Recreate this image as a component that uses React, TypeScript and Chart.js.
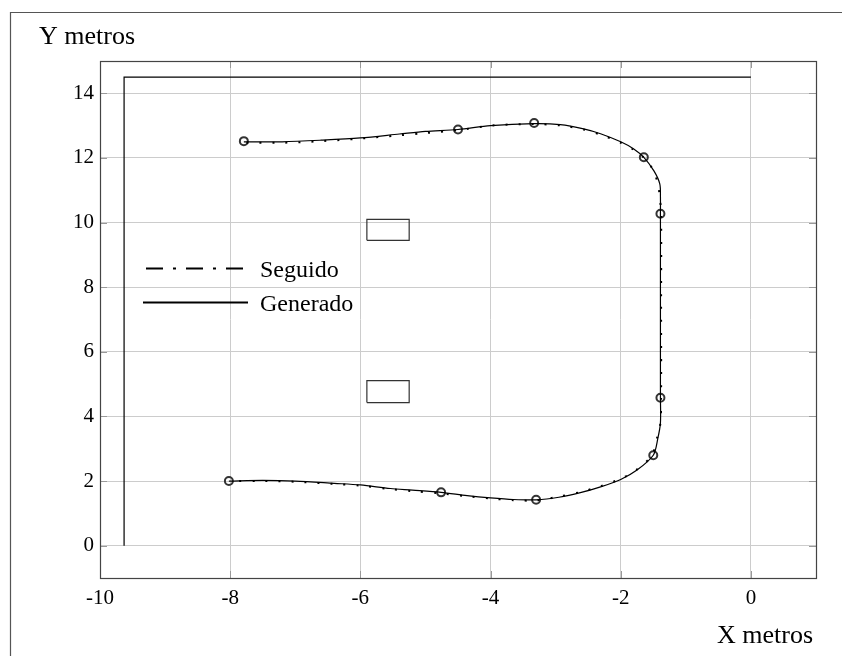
import { useEffect, useRef } from 'react';
import { Chart, registerables } from 'chart.js';

Chart.register(...registerables);

// ---- data ----
const xTicks = [-10, -8, -6, -4, -2, 0];
const yTicks = [0, 2, 4, 6, 8, 10, 12, 14];

const generadoX = [-7.79, -7.2, -6.6, -6.0, -5.4, -5.0, -4.5, -4.0, -3.33, -2.93, -2.57, -2.31, -2.0, -1.8, -1.645, -1.49, -1.40, -1.39, -1.39, -1.39, -1.39, -1.39, -1.43, -1.50, -1.75, -2.0, -2.31, -2.62, -2.95, -3.30, -3.65, -4.0, -4.36, -4.76, -5.2, -5.54, -6.0, -6.4, -7.0, -7.5, -8.02];
const generadoY = [12.5, 12.5, 12.55, 12.62, 12.74, 12.82, 12.88, 13.0, 13.06, 13.03, 12.9, 12.75, 12.5, 12.28, 12.02, 11.6, 11.2, 10.8, 10.27, 7.5, 4.59, 3.8, 3.32, 2.8, 2.34, 2.05, 1.82, 1.64, 1.5, 1.42, 1.43, 1.48, 1.55, 1.65, 1.72, 1.77, 1.88, 1.93, 2.0, 2.02, 2.0];

const seguidoX = [-7.75, -7.2, -6.6, -6.0, -5.4, -5.0, -4.5, -4.0, -3.33, -2.9, -2.57, -2.31, -2.0, -1.8, -1.64, -1.5, -1.43, -1.40, -1.38, -1.38, -1.38, -1.39, -1.44, -1.52, -1.77, -2.0, -2.31, -2.62, -2.95, -3.30, -3.65, -4.0, -4.36, -4.76, -5.2, -5.54, -6.0, -6.4, -7.0, -7.5, -7.95];
const seguidoY = [12.47, 12.47, 12.52, 12.6, 12.7, 12.77, 12.86, 13.0, 13.05, 13.0, 12.88, 12.72, 12.47, 12.25, 12.0, 11.62, 11.2, 10.8, 10.27, 7.5, 4.59, 3.8, 3.35, 2.8, 2.33, 2.07, 1.84, 1.66, 1.52, 1.4, 1.41, 1.46, 1.53, 1.62, 1.69, 1.75, 1.86, 1.91, 1.98, 2.0, 2.0];

const waypointX = [-7.79, -4.5, -3.33, -1.645, -1.39, -1.39, -1.50, -3.30, -4.76, -8.02];
const waypointY = [12.52, 12.88, 13.08, 12.02, 10.27, 4.58, 2.80, 1.42, 1.65, 2.0];

const paredX = [-9.63, -9.63, 0];
const paredY = [0, 14.5, 14.5];

const obstaculo1X = [-5.9, -5.25, -5.25, -5.9, -5.9];
const obstaculo1Y = [9.45, 9.45, 10.1, 10.1, 9.45];
const obstaculo2X = [-5.9, -5.25, -5.25, -5.9, -5.9];
const obstaculo2Y = [4.43, 4.43, 5.11, 5.11, 4.43];

const xTitle = 'X metros';
const yTitle = 'Y metros';

const toPts = (xs: number[], ys: number[]) => xs.map((x, i) => ({ x, y: ys[i] }));

const FONT = "'Liberation Serif', 'Times New Roman', serif";

const decorPlugin = {
  id: 'decor',
  beforeDatasetsDraw(chart: any) {
    const { ctx, chartArea: a } = chart;
    const xs = chart.scales.x;
    const ys = chart.scales.y;
    ctx.save();
    // inward ticks
    ctx.strokeStyle = '#999';
    ctx.lineWidth = 1;
    ctx.beginPath();
    for (const v of yTicks) {
      const p = Math.round(ys.getPixelForValue(v)) + 0.5;
      ctx.moveTo(a.left, p); ctx.lineTo(a.left + 7, p);
      ctx.moveTo(a.right, p); ctx.lineTo(a.right - 7, p);
    }
    for (const v of xTicks) {
      const p = Math.round(xs.getPixelForValue(v)) + 0.5;
      ctx.moveTo(p, a.bottom); ctx.lineTo(p, a.bottom - 7);
      ctx.moveTo(p, a.top); ctx.lineTo(p, a.top + 7);
    }
    ctx.stroke();
    // plot frame
    ctx.strokeStyle = '#444';
    ctx.lineWidth = 1.2;
    ctx.strokeRect(Math.round(a.left) + 0.5, Math.round(a.top) + 0.5, Math.round(a.right - a.left), Math.round(a.bottom - a.top));
    ctx.restore();
  },
  afterDraw(chart: any, _args: any, opts: any) {
    const { ctx } = chart;
    ctx.save();
    // outer figure frame
    ctx.strokeStyle = '#555';
    ctx.lineWidth = 1.2;
    ctx.beginPath();
    ctx.moveTo(10.5, 700);
    ctx.lineTo(10.5, 12.5);
    ctx.lineTo(900, 12.5);
    ctx.stroke();
    // titles
    ctx.fillStyle = '#000';
    ctx.font = `26px ${FONT}`;
    ctx.textBaseline = 'alphabetic';
    ctx.textAlign = 'left';
    ctx.fillText(yTitle, opts.yTitleX, opts.yTitleY);
    ctx.fillText(xTitle, opts.xTitleX, opts.xTitleY);
    // legend
    ctx.font = `24px ${FONT}`;
    const items = chart.data.datasets.filter((d: any) => d.inLegend);
    items.forEach((d: any, i: number) => {
      const it = opts.legend[i];
      ctx.strokeStyle = '#000';
      ctx.lineWidth = 2;
      ctx.setLineDash(d.legendDash || []);
      ctx.beginPath();
      ctx.moveTo(it.x1, it.y);
      ctx.lineTo(it.x2, it.y);
      ctx.stroke();
      ctx.setLineDash([]);
      ctx.fillText(d.label, it.textX, it.baseline);
    });
    ctx.restore();
  },
};

export default function App() {
  const ref = useRef<HTMLCanvasElement>(null);

  useEffect(() => {
    if (!ref.current) return;
    const lineDs = (label: string, xs: number[], ys: number[], extra: any) => ({
      label,
      data: toPts(xs, ys),
      showLine: true,
      pointRadius: 0,
      pointHoverRadius: 0,
      borderColor: '#000',
      backgroundColor: 'transparent',
      borderWidth: 1.2,
      tension: 0,
      ...extra,
    });
    const chart = new Chart(ref.current, {
      type: 'scatter',
      data: {
        datasets: [
          lineDs('Pared', paredX, paredY, { borderWidth: 1.2 }),
          lineDs('Obstáculo 1', obstaculo1X, obstaculo1Y, { borderColor: '#333', borderWidth: 1.2 }),
          lineDs('Obstáculo 2', obstaculo2X, obstaculo2Y, { borderColor: '#333', borderWidth: 1.2 }),
          lineDs('Seguido', seguidoX, seguidoY, { borderDash: [2, 11], borderWidth: 2, tension: 0.3, inLegend: true, legendDash: [17, 10, 3, 10] }),
          lineDs('Generado', generadoX, generadoY, { borderWidth: 1.2, tension: 0.3, inLegend: true, legendDash: [] }),
          {
            label: 'Puntos',
            data: toPts(waypointX, waypointY),
            showLine: false,
            pointRadius: 4,
            pointStyle: 'circle',
            pointBorderColor: '#333',
            pointBackgroundColor: 'transparent',
            pointBorderWidth: 2,
          },
        ],
      },
      options: {
        animation: false,
        responsive: false,
        devicePixelRatio: 1,
        layout: { padding: { top: 61, right: 26, left: 0, bottom: 0 } },
        plugins: {
          legend: { display: false },
          tooltip: { enabled: false },
          decor: {
            yTitleX: 39, yTitleY: 43.5,
            xTitleX: 717, xTitleY: 643,
            legend: [
              { x1: 146, x2: 251, y: 268.5, textX: 260, baseline: 277 },
              { x1: 143, x2: 248, y: 302.5, textX: 260, baseline: 311 },
            ],
          },
        } as any,
        scales: {
          x: {
            type: 'linear',
            min: -10,
            max: 1,
            afterBuildTicks: (s: any) => { s.ticks = xTicks.map((v) => ({ value: v })); },
            afterFit: (s: any) => { s.height = 78; },
            grid: { color: '#cccccc', lineWidth: 1, drawTicks: false },
            border: { display: false },
            ticks: { padding: 8, color: '#000', font: { family: FONT, size: 21 }, maxRotation: 0 },
          },
          y: {
            type: 'linear',
            min: -1,
            max: 15,
            afterBuildTicks: (s: any) => { s.ticks = yTicks.map((v) => ({ value: v })); },
            afterFit: (s: any) => { s.width = 100; },
            grid: { color: '#cccccc', lineWidth: 1, drawTicks: false },
            border: { display: false },
            ticks: { padding: 6, color: '#000', font: { family: FONT, size: 21 } },
          },
        },
      },
      plugins: [decorPlugin],
    });
    return () => chart.destroy();
  }, []);

  return (
    <div style={{ position: 'fixed', left: 0, top: 0, width: 842, height: 656, background: '#fff' }}>
      <canvas ref={ref} width={842} height={656} style={{ display: 'block', width: 842, height: 656 }} />
    </div>
  );
}
